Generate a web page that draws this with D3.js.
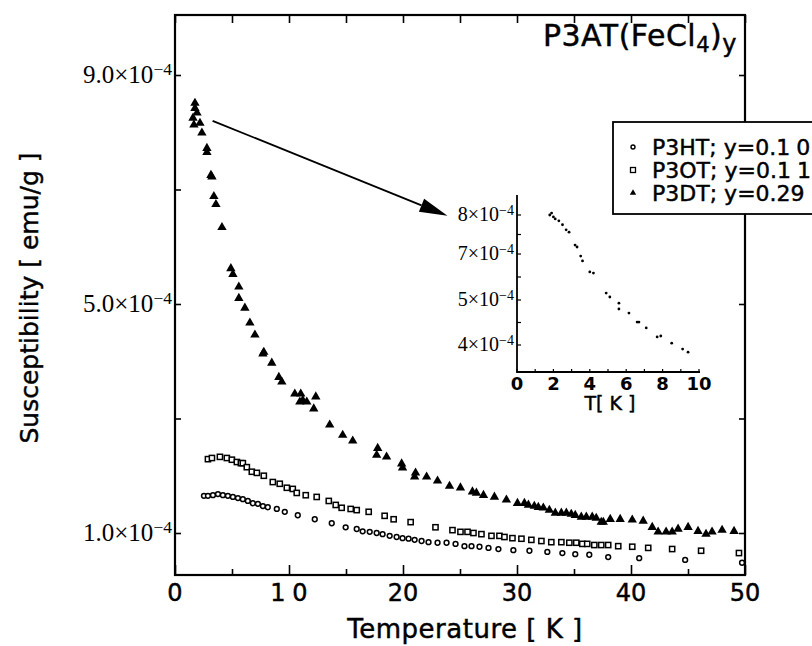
<!DOCTYPE html>
<html>
<head>
<meta charset="utf-8">
<script src="https://cdn.jsdelivr.net/npm/d3@7"></script>
<style>
  body { margin: 0; background: #fff; }
  text { fill: #000; }
  .sans { stroke: #000; stroke-width: 0.45px; }
</style>
</head>
<body>
<script>
// values: [T in K, susceptibility in 1e-4 emu/g]
var p3ht = [[2.54,1.65],[2.89,1.65],[3.33,1.66],[3.77,1.68],[4.20,1.66],[4.64,1.65],[5.08,1.63],[5.52,1.61],
  [5.95,1.59],[6.39,1.56],[6.83,1.52],[7.27,1.51],[7.71,1.47],[8.14,1.45],[8.93,1.42],[9.63,1.37],[10.77,1.31],
  [12.26,1.24],[13.75,1.17],[14.97,1.10],[15.94,1.07],[16.46,1.03],[17.08,1.02],[17.69,1.00],[18.21,0.98],
  [18.83,0.95],[19.44,0.93],[19.96,0.91],[20.49,0.90],[21.02,0.88],[21.63,0.86],[22.24,0.84],[23.03,0.83],
  [23.82,0.83],[24.61,0.81],[25.39,0.77],[26.01,0.77],[26.71,0.76],[27.50,0.74],[28.37,0.72],[29.68,0.70],
  [31.09,0.69],[32.66,0.67],[33.98,0.65],[35.11,0.63],[36.34,0.62],[38.00,0.58],[40.72,0.56],[44.75,0.53],[49.74,0.48]];

var p3ot = [[2.89,2.29],[3.24,2.31],[3.94,2.33],[4.55,2.31],[4.99,2.28],[5.43,2.24],[5.78,2.22],[5.95,2.22],
  [6.30,2.15],[6.74,2.07],[7.18,2.05],[7.79,2.00],[8.58,1.89],[9.19,1.86],[9.81,1.79],[10.33,1.77],[10.68,1.70],
  [11.47,1.66],[12.43,1.63],[13.49,1.56],[14.10,1.49],[14.62,1.44],[15.41,1.42],[15.94,1.40],[16.99,1.37],
  [18.39,1.30],[19.18,1.24],[20.67,1.19],[22.85,1.10],[24.34,1.05],[25.04,1.02],[25.66,1.02],[26.18,1.00],
  [26.88,0.98],[27.76,0.95],[28.46,0.95],[28.90,0.93],[29.60,0.91],[30.39,0.90],[31.26,0.88],[32.14,0.86],
  [33.01,0.84],[33.89,0.84],[34.59,0.83],[35.20,0.83],[35.73,0.81],[36.16,0.81],[36.78,0.79],[37.39,0.79],
  [38.00,0.79],[38.88,0.77],[40.11,0.76],[41.51,0.74],[43.61,0.72],[46.15,0.69],[49.47,0.65]];

var p3dt = [[1.75,8.51],[1.75,8.42],[1.93,8.34],[1.58,8.25],[2.19,8.16],[1.66,8.13],[2.36,7.99],[2.80,7.72],
  [2.80,7.65],[3.15,7.25],[3.24,7.22],[3.41,6.88],[3.59,6.74],[4.12,6.34],[4.90,5.62],[5.08,5.52],[5.60,5.30],
  [5.60,5.10],[6.13,4.93],[6.57,4.67],[7.01,4.46],[7.79,4.16],[7.71,4.13],[8.49,3.97],[9.11,3.72],[9.37,3.64],
  [10.51,3.43],[11.03,3.43],[10.95,3.29],[11.21,3.32],[11.56,3.29],[12.35,3.38],[12.17,3.17],[13.57,2.89],
  [14.71,2.71],[15.59,2.61],[17.78,2.48],[17.69,2.36],[18.56,2.33],[19.88,2.21],[19.96,2.14],[21.10,2.05],
  [21.02,1.98],[22.07,1.98],[23.03,1.91],[24.08,1.82],[25.04,1.79],[26.09,1.72],[26.44,1.70],[27.06,1.66],
  [28.02,1.63],[29.07,1.58],[30.04,1.52],[30.65,1.52],[31.00,1.49],[31.52,1.47],[31.87,1.45],[32.31,1.44],
  [32.84,1.40],[33.36,1.35],[33.89,1.35],[34.33,1.35],[34.76,1.33],[35.11,1.31],[35.64,1.28],[36.08,1.28],
  [36.60,1.28],[36.95,1.26],[37.39,1.19],[37.57,1.19],[38.18,1.24],[39.05,1.24],[40.11,1.23],[41.07,1.21],
  [41.86,1.10],[42.38,1.02],[43.08,1.02],[43.61,1.02],[44.13,1.07],[45.01,1.10],[45.88,1.03],[46.58,0.98],
  [47.11,1.02],[47.99,1.05],[49.04,1.03]];

// inset: P3DT below 10 K
var insetP3dt = [[1.8,8.0],[1.9,8.05],[2.0,7.95],[2.1,7.9],[2.3,7.85],[2.5,7.75],[2.7,7.62],[2.86,7.56],
  [3.19,7.23],[3.3,7.18],[3.5,6.91],[3.6,6.70],[4.0,6.22],[4.2,6.17],[4.9,5.30],[5.1,5.13],[5.6,4.93],
  [5.6,4.80],[6.15,4.71],[6.6,4.51],[6.7,4.51],[7.1,4.38],[7.7,4.18],[7.9,4.20],[8.5,4.04],[9.1,3.91],[9.4,3.84]];

var seriesNames = ["P3HT; y=0.10", "P3OT; y=0.11", "P3DT; y=0.29"];
var xTickLabels = [0, 10, 20, 30, 40, 50];
var xMinorTicks = [5, 15, 25, 35, 45];
var yTicks = [1, 3, 5, 7, 9];
var yTickLabels = [[9, "9.0"], [5, "5.0"], [1, "1.0"]];
var insetXLabels = [0, 2, 4, 6, 8, 10];
var insetXMinor = [1, 3, 5, 7, 9];
var insetYLabels = [8, 7, 5, 4];
var insetYMinor = [4.5, 6, 7.5];

var W = 812, H = 646;
var frame = {left: 175, right: 745, top: 15, bottom: 575};

var svg = d3.select("body").append("svg")
    .attr("width", W).attr("height", H)
    .style("font-family", "'DejaVu Sans', sans-serif");

// main scales
var x = d3.scaleLinear().domain([0, 50]).range([frame.left, frame.right]);
var y = d3.scaleLinear().domain([1, 9]).range([533, 75]);

// writes text where a "1" has the wide advance of the plotter font
function plotText(sel, str, gap) {
  var prev = "";
  str.split("").forEach(function (c) {
    var t = sel.append("tspan").text(c);
    if (prev === "1") t.attr("dx", gap || "0.28em");
    prev = c;
  });
  return sel;
}

// exponent labels like 9.0×10^-4
function expLabel(sel, mant) {
  sel.append("tspan").text(mant + "×10");
  sel.append("tspan").text("−4").attr("dy", "-0.45em").style("font-size", "70%");
}

// ticks (inward) via d3 axes
function axisG(axis, tx, ty) {
  var g = svg.append("g").attr("transform", "translate(" + tx + "," + ty + ")").call(axis);
  g.select(".domain").remove();
  g.selectAll("text").remove();
  g.selectAll("line").attr("stroke", "#000").attr("stroke-width", 1.6);
  return g;
}
axisG(d3.axisBottom(x).tickValues(xTickLabels).tickSize(-10), 0, frame.bottom);
axisG(d3.axisBottom(x).tickValues(xMinorTicks).tickSize(-6), 0, frame.bottom);
axisG(d3.axisTop(x).tickValues(xTickLabels.concat(xMinorTicks)).tickSize(-8), 0, frame.top);
axisG(d3.axisLeft(y).tickValues(yTicks).tickSize(-6), frame.left, 0);
axisG(d3.axisRight(y).tickValues(yTicks).tickSize(-6), frame.right, 0);

svg.append("rect")
    .attr("x", frame.left).attr("y", frame.top)
    .attr("width", frame.right - frame.left).attr("height", frame.bottom - frame.top)
    .attr("fill", "none").attr("stroke", "#000").attr("stroke-width", 2.2);

// x tick labels
svg.selectAll(".xl").data(xTickLabels).enter().append("text")
    .attr("class", "sans")
    .attr("x", function (d) { return x(d); }).attr("y", 601)
    .attr("text-anchor", "middle").style("font-size", "24px")
    .each(function (d) { plotText(d3.select(this), String(d)); });

// y tick labels
svg.selectAll(".yl").data(yTickLabels).enter().append("text")
    .attr("x", frame.left - 3).attr("y", function (d) { return y(d[0]) + 8; })
    .attr("text-anchor", "end")
    .style("font-family", "'Liberation Serif', serif").style("font-size", "25px")
    .each(function (d) { expLabel(d3.select(this), d[1]); });

// axis titles
svg.append("text").attr("class", "sans")
    .attr("x", (frame.left + frame.right) / 2 + 5).attr("y", 638)
    .attr("text-anchor", "middle").style("font-size", "26px").style("letter-spacing", "0.5px")
    .text("Temperature [ K ]");
svg.append("text").attr("class", "sans")
    .attr("transform", "translate(38,298) rotate(-90)")
    .attr("text-anchor", "middle").style("font-size", "25px")
    .text("Susceptibility [ emu/g ]");

// title
var title = svg.append("text").attr("class", "sans").attr("x", 737).attr("y", 46)
    .attr("text-anchor", "end").style("font-size", "30px").style("letter-spacing", "0.5px");
title.append("tspan").text("P3AT(FeCl");
title.append("tspan").text("4").attr("dy", 6).style("font-size", "21px");
title.append("tspan").text(")").attr("dy", -6);
title.append("tspan").text("y").attr("dy", 6).style("font-size", "24px");

// markers
var dots = svg.append("g");
dots.selectAll(".c").data(p3ht).enter().append("circle")
    .attr("cx", function (d) { return x(d[0]); }).attr("cy", function (d) { return y(d[1]); })
    .attr("r", 2.4).attr("fill", "#fff").attr("stroke", "#000").attr("stroke-width", 1.5);
dots.selectAll(".s").data(p3ot).enter().append("rect")
    .attr("x", function (d) { return x(d[0]) - 2.6; }).attr("y", function (d) { return y(d[1]) - 2.6; })
    .attr("width", 5.2).attr("height", 5.2)
    .attr("fill", "#fff").attr("stroke", "#000").attr("stroke-width", 1.5);
var tri = d3.symbol().type(d3.symbolTriangle).size(38);
dots.selectAll(".t").data(p3dt).enter().append("path")
    .attr("d", tri)
    .attr("transform", function (d) { return "translate(" + x(d[0]) + "," + y(d[1]) + ")"; })
    .attr("fill", "#000");

// arrow from the low-T points to the inset
var a0 = [x(3.3), y(8.2)], a1 = [x(23.9), y(6.54)];
var ang = Math.atan2(a1[1] - a0[1], a1[0] - a0[0]);
var hl = 28, hw = 7;
var base = [a1[0] - hl * Math.cos(ang), a1[1] - hl * Math.sin(ang)];
svg.append("line").attr("x1", a0[0]).attr("y1", a0[1]).attr("x2", base[0]).attr("y2", base[1])
    .attr("stroke", "#000").attr("stroke-width", 1.8);
svg.append("path")
    .attr("d", "M" + a1 + "L" + [base[0] + hw * Math.sin(ang), base[1] - hw * Math.cos(ang)] +
               "L" + [base[0] - hw * Math.sin(ang), base[1] + hw * Math.cos(ang)] + "Z")
    .attr("fill", "#000");

// inset
var ix = d3.scaleLinear().domain([0, 10]).range([517, 699]);
var iy = d3.scaleLinear().domain([4, 5, 7, 8]).range([345, 300, 254, 215]);
var inset = svg.append("g");
inset.append("path").attr("d", "M517,195V372H700")
    .attr("fill", "none").attr("stroke", "#000").attr("stroke-width", 1.8);
inset.selectAll(".ixt").data(insetXLabels.concat(insetXMinor)).enter().append("line")
    .attr("x1", function (d) { return ix(d); }).attr("x2", function (d) { return ix(d); })
    .attr("y1", 372).attr("y2", 369).attr("stroke", "#000").attr("stroke-width", 1.2);
inset.selectAll(".iyt").data(insetYLabels.concat(insetYMinor)).enter().append("line")
    .attr("y1", function (d) { return iy(d); }).attr("y2", function (d) { return iy(d); })
    .attr("x1", 517).attr("x2", 521).attr("stroke", "#000").attr("stroke-width", 1.2);
inset.selectAll(".ixl").data(insetXLabels).enter().append("text")
    .attr("x", function (d) { return ix(d); }).attr("y", 390)
    .attr("text-anchor", "middle").style("font-size", "18px").style("font-weight", "bold")
    .text(function (d) { return d; });
inset.selectAll(".iyl").data(insetYLabels).enter().append("text")
    .attr("x", 514).attr("y", function (d) { return iy(d) + 6; })
    .attr("text-anchor", "end")
    .style("font-family", "'Liberation Serif', serif").style("font-size", "20px")
    .each(function (d) { expLabel(d3.select(this), String(d)); });
inset.append("text").attr("class", "sans").attr("x", 610).attr("y", 410).attr("text-anchor", "middle")
    .style("font-size", "19px").text("T[  K  ]");
inset.selectAll(".ip").data(insetP3dt).enter().append("circle")
    .attr("cx", function (d) { return ix(d[0]); }).attr("cy", function (d) { return iy(d[1]); })
    .attr("r", 1.4).attr("fill", "#000");

// legend (overlaps the right frame)
var lg = svg.append("g");
lg.append("rect").attr("x", 613).attr("y", 122).attr("width", 210).attr("height", 92)
    .attr("fill", "#fff").attr("stroke", "#000").attr("stroke-width", 1.8);
var rows = [147, 170, 193];
lg.append("circle").attr("cx", 633).attr("cy", rows[0]).attr("r", 2)
    .attr("fill", "#fff").attr("stroke", "#000").attr("stroke-width", 1.4);
lg.append("rect").attr("x", 630.5).attr("y", rows[1] - 2.5).attr("width", 5).attr("height", 5)
    .attr("fill", "#fff").attr("stroke", "#000").attr("stroke-width", 1.3);
lg.append("path").attr("d", d3.symbol().type(d3.symbolTriangle).size(18))
    .attr("transform", "translate(633," + rows[2] + ")").attr("fill", "#000");
lg.selectAll(".lt").data(seriesNames).enter().append("text")
    .attr("class", "sans")
    .attr("x", 652).attr("y", function (d, i) { return rows[i] + 8; })
    .style("font-size", "22px")
    .each(function (d) { plotText(d3.select(this), d); });
</script>
</body>
</html>
